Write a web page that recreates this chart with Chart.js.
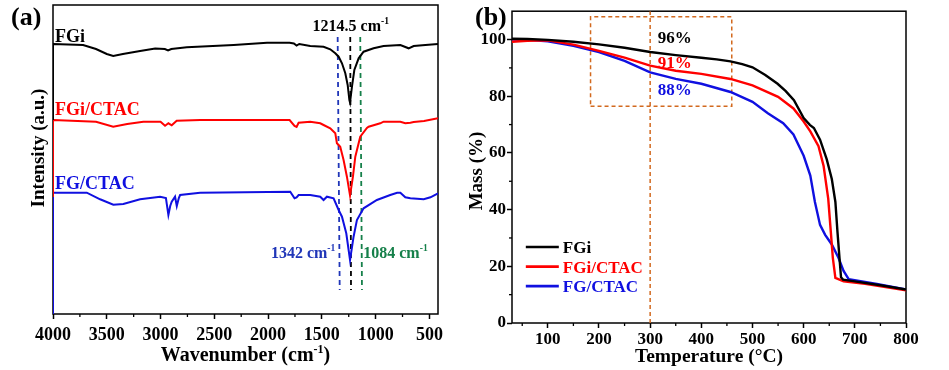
<!DOCTYPE html>
<html>
<head>
<meta charset="utf-8">
<script src="https://cdn.jsdelivr.net/npm/chart.js@4.4.1/dist/chart.umd.min.js"></script>
<style>
  html, body { margin:0; padding:0; background:#fff; }
  body { width:949px; height:370px; position:relative; overflow:hidden; }
  canvas { position:absolute; top:0; }
  #cA { left:0; }
  #cB { left:455px; }
</style>
</head>
<body>
<canvas id="cA" width="474" height="370"></canvas>
<canvas id="cB" width="494" height="370"></canvas>
<script>
// ---------------- Panel (a): FTIR spectra (wavenumber, intensity a.u.) ----------------
const ftirFGi = [[4000,194],[4000,270],[3720,269],[3600,265],[3500,260],[3440,258],[3350,260],[3190,263],[3050,265.5],[2960,265],[2930,263.5],[2900,265],[2880,265.3],[2756,266.7],[2320,269],[2010,271.3],[1800,271.3],[1760,270.5],[1735,268.5],[1710,270],[1608,268],[1484,267.3],[1422,264.7],[1375,260.7],[1344,257.3],[1313,250.7],[1282,240.7],[1260,229],[1244,214],[1238,211.5],[1220,227.3],[1198,244],[1158,255.7],[1112,262.3],[1019,265.7],[926,268],[770,269],[693,265.7],[646,268],[537,269],[420,270]];
const ftirFGiCTAC = [[4000,117],[4000,194],[3600,192.3],[3440,187.3],[3310,190],[3160,192.3],[3000,192.3],[2958,188.3],[2927,190.7],[2896,188.7],[2850,193.3],[2630,194],[1800,194],[1754,188],[1735,187],[1716,191.3],[1608,192.3],[1515,190.7],[1484,189],[1422,185.7],[1375,180.7],[1360,170.7],[1344,169],[1329,167.3],[1298,154],[1267,137.3],[1238,118.5],[1211,137.3],[1189,157.3],[1143,177.3],[1081,186],[1065,187.3],[957,190.7],[926,192.3],[770,192.3],[724,190.7],[677,191.3],[646,192],[550,193],[420,195.7]];
const ftirFGCTAC = [[4000,0],[4000,121.3],[3686,121.3],[3562,114.7],[3439,109.3],[3346,110],[3190,114.7],[3004,117.3],[2950,116],[2927,99],[2910,108],[2896,112.3],[2865,117.3],[2849,108],[2830,116],[2818,119],[2632,121.3],[1794,122.3],[1754,115.7],[1735,116.5],[1716,119],[1608,119],[1515,117.3],[1484,114],[1453,117.3],[1391,115.7],[1360,108],[1344,104],[1313,97.3],[1273,80.7],[1238,54],[1205,77.3],[1174,94],[1112,105.7],[988,114],[864,119],[800,121.3],[770,121.3],[724,116.7],[677,115.7],[553,114.7],[490,116.7],[420,120.7]];
// dashed marker lines (top point, bottom point)
const markBlue  = [[1353,277],[1334,24]];
const markBlack = [[1236,277],[1229,24]];
const markGreen = [[1143,277],[1127,24]];
const ftirTickLabels = [4000,3500,3000,2500,2000,1500,1000,500];
const ftirMinorTicks = [3750,3250,2750,2250,1750,1250,750];

// ---------------- Panel (b): TGA curves (temperature °C, mass %) ----------------
const tgaFGi = [[30,100.3],[60,100.2],[100,99.9],[150,99.2],[200,98.3],[250,97.1],[300,95.6],[350,94.5],[400,93.6],[430,93.0],[457,92.3],[480,91.3],[500,90.2],[525,87.5],[549,84.4],[565,81.8],[581,78.6],[600,72.3],[612,69.9],[620,68.8],[632,64.7],[645,57.8],[655,50.8],[662,42.7],[666,32.3],[670,23],[673,16.1],[677,15.3],[700,14.7],[750,13.3],[800,11.8]];
const tgaFGiCTAC = [[30,99.2],[60,99.6],[100,99.7],[150,98.2],[200,96],[250,93.6],[300,90.8],[350,89],[400,87.9],[457,86.1],[500,83.8],[550,79.8],[580,75.7],[600,71.1],[613,67.6],[629,62.4],[639,55.4],[648,43.9],[653,32.3],[657,23],[662,15.9],[678,14.7],[720,13.8],[760,12.7],[800,11.5]];
const tgaFGCTAC = [[30,100],[60,99.9],[100,99.4],[150,97.8],[200,95.6],[250,92.5],[300,88.4],[350,86.1],[400,84.4],[457,81.5],[500,78],[530,74],[560,70.5],[580,66.5],[600,59],[613,52],[622,42.7],[632,34.6],[642,31.1],[655,27.7],[668,23],[678,18.4],[688,15.5],[743,13.8],[800,11.8]];
const guideLine300 = [[300,0],[300,110]];
const highlightBox = [[183.5,76.5],[459.5,76.5],[459.5,108],[183.5,108],[183.5,76.5]];
const tgaXTickLabels = [100,200,300,400,500,600,700,800];
const tgaXMinorTicks = [50,150,250,350,450,550,650,750];
const tgaYTickLabels = [0,20,40,60,80,100];
const tgaYMinorTicks = [10,30,50,70,90];
const tgaPercentLabels = ['96%','91%','88%'];
const tgaPercentPos = [[348,101],[348,92.2],[348,82.4]];
const seriesNames = ['FGi','FGi/CTAC','FG/CTAC'];

// ---------------- styling ----------------
const FAMILY = '"Liberation Serif", "Times New Roman", serif';
const BLACK = '#000000', RED = '#FF0000', BLUE = '#1010E0';
const GREEN = '#16804A', DBLUE = '#2036B8', ORANGE = '#D2691E';
const xy = arr => arr.map(([x,y]) => ({x, y}));
const fontStr = (s) => `bold ${s}px ${FAMILY}`;

function drawRich(ctx, x, y, parts, size, color, align) {
  let w = 0;
  parts.forEach(([t, sup]) => { ctx.font = fontStr(sup ? size*0.6 : size); w += ctx.measureText(t).width; });
  let cx = align === 'center' ? x - w/2 : align === 'right' ? x - w : x;
  ctx.fillStyle = color; ctx.textBaseline = 'alphabetic'; ctx.textAlign = 'left';
  parts.forEach(([t, sup]) => {
    ctx.font = fontStr(sup ? size*0.6 : size);
    ctx.fillText(t, cx, sup ? y - size*0.4 : y);
    cx += ctx.measureText(t).width;
  });
}
function drawRotated(ctx, cx, cy, text, size, color) {
  ctx.save();
  ctx.translate(cx, cy); ctx.rotate(-Math.PI/2);
  ctx.font = fontStr(size); ctx.fillStyle = color;
  ctx.textAlign = 'center'; ctx.textBaseline = 'middle';
  ctx.fillText(text, 0, 0);
  ctx.restore();
}

const framePlugin = {
  id: 'frame',
  beforeDatasetsDraw(chart) {
    const {ctx, chartArea: a} = chart;
    ctx.save(); ctx.strokeStyle = '#000'; ctx.lineWidth = 1.5;
    ctx.strokeRect(a.left, a.top, a.right - a.left, a.bottom - a.top);
    ctx.restore();
  }
};
function minorTickPlugin(xMinor, yMinor) {
  return {
    id: 'minorTicks',
    afterDraw(chart) {
      const {ctx, chartArea: a, scales} = chart;
      ctx.save(); ctx.strokeStyle = '#000'; ctx.lineWidth = 1.3;
      xMinor.forEach(v => { const p = scales.x.getPixelForValue(v); ctx.beginPath(); ctx.moveTo(p, a.bottom); ctx.lineTo(p, a.bottom + 3); ctx.stroke(); });
      if (scales.y.options.display) yMinor.forEach(v => { const p = scales.y.getPixelForValue(v); ctx.beginPath(); ctx.moveTo(a.left, p); ctx.lineTo(a.left - 3, p); ctx.stroke(); });
      ctx.restore();
    }
  };
}
const tickFont = (s) => ({ family: FAMILY, size: s, weight: 'bold' });
const plainLabel = v => String(v);
const lineDS = (label, data, color, width, dash) => ({
  label, data: xy(data), borderColor: color, borderWidth: width, borderDash: dash || [],
  pointRadius: 0, tension: 0, fill: false, spanGaps: true
});

// ---------------- Chart (a) ----------------
const textA = {
  id: 'textA',
  afterDraw(chart) {
    const {ctx, scales: {x, y}} = chart;
    const X = v => x.getPixelForValue(v), Y = v => y.getPixelForValue(v);
    ctx.save();
    ctx.font = fontStr(26); ctx.fillStyle = '#000'; ctx.textAlign = 'left'; ctx.textBaseline = 'middle';
    ctx.fillText('(a)', 11, 18);
    drawRich(ctx, X(3981), Y(278) + 6, [[seriesNames[0]]], 18, BLACK, 'left');
    drawRich(ctx, X(3981), Y(205) + 6, [[seriesNames[1]]], 18, RED, 'left');
    drawRich(ctx, X(3981), Y(131.5) + 6, [[seriesNames[2]]], 18, BLUE, 'left');
    drawRich(ctx, X(1231), Y(289) + 5.5, [['1214.5 cm'], ['-1', true]], 16, BLACK, 'center');
    drawRich(ctx, X(1375), Y(62) + 5.5, [['1342 cm'], ['-1', true]], 16, DBLUE, 'right');
    drawRich(ctx, X(1115), Y(62) + 5.5, [['1084 cm'], ['-1', true]], 16, GREEN, 'left');
    drawRich(ctx, (chart.chartArea.left + chart.chartArea.right)/2, 361, [['Wavenumber (cm'], ['-1', true], [')']], 20, BLACK, 'center');
    drawRotated(ctx, 39, 148, 'Intensity (a.u.)', 19, BLACK);
    ctx.restore();
  }
};
new Chart(document.getElementById('cA'), {
  type: 'line',
  data: { datasets: [
    lineDS(seriesNames[0], ftirFGi, BLACK, 2),
    lineDS(seriesNames[1], ftirFGiCTAC, RED, 2),
    lineDS(seriesNames[2], ftirFGCTAC, BLUE, 2),
    lineDS('1342', markBlue, DBLUE, 1.8, [5,4]),
    lineDS('1214.5', markBlack, BLACK, 1.8, [5,4]),
    lineDS('1084', markGreen, GREEN, 1.8, [5,4])
  ]},
  options: {
    responsive: false, animation: false, maintainAspectRatio: false,
    layout: { padding: { left: 53, right: 36, top: 5, bottom: 0 } },
    plugins: { legend: { display: false }, tooltip: { enabled: false } },
    scales: {
      x: {
        type: 'linear', reverse: true, min: 420, max: 4000,
        afterBuildTicks: s => { s.ticks = ftirTickLabels.map(v => ({ value: v })); },
        afterFit: s => { s.height = 56; },
        ticks: { font: tickFont(18), color: '#000', padding: 6, maxRotation: 0, autoSkip: false, callback: plainLabel },
        grid: { display: true, drawOnChartArea: false, drawTicks: true, tickLength: 5, tickColor: '#000', tickWidth: 1.5 },
        border: { display: false }
      },
      y: { type: 'linear', display: false, min: 0, max: 309 }
    }
  },
  plugins: [framePlugin, minorTickPlugin(ftirMinorTicks, []), textA]
});

// ---------------- Chart (b) ----------------
const textB = {
  id: 'textB',
  afterDraw(chart) {
    const {ctx, scales: {x, y}, chartArea: a} = chart;
    const X = v => x.getPixelForValue(v), Y = v => y.getPixelForValue(v);
    ctx.save();
    ctx.font = fontStr(26); ctx.fillStyle = '#000'; ctx.textAlign = 'left'; ctx.textBaseline = 'middle';
    ctx.fillText('(b)', 20, 18);
    const cols = [BLACK, RED, BLUE];
    tgaPercentLabels.forEach((t, i) => drawRich(ctx, X(tgaPercentPos[i][0]), Y(tgaPercentPos[i][1]) + 6, [[t]], 17, cols[i], 'center'));
    // legend
    const legendY = [26.8, 19.9, 13];
    seriesNames.forEach((n, i) => {
      const yy = Y(legendY[i]);
      ctx.strokeStyle = cols[i]; ctx.lineWidth = 2.6;
      ctx.beginPath(); ctx.moveTo(X(57), yy); ctx.lineTo(X(121.5), yy); ctx.stroke();
      drawRich(ctx, X(129.4), yy + 6, [[n]], 17, cols[i], 'left');
    });
    drawRich(ctx, (a.left + a.right)/2, 362, [['Temperature (°C)']], 19.5, BLACK, 'center');
    drawRotated(ctx, 22, 171, 'Mass (%)', 19, BLACK);
    ctx.restore();
  }
};
new Chart(document.getElementById('cB'), {
  type: 'line',
  data: { datasets: [
    lineDS(seriesNames[0], tgaFGi, BLACK, 2.4),
    lineDS(seriesNames[1], tgaFGiCTAC, RED, 2.4),
    lineDS(seriesNames[2], tgaFGCTAC, BLUE, 2.4),
    lineDS('300 °C', guideLine300, ORANGE, 1.5, [4,3]),
    lineDS('region', highlightBox, ORANGE, 1.5, [4,3])
  ]},
  options: {
    responsive: false, animation: false, maintainAspectRatio: false,
    layout: { padding: { left: 0, right: 43, top: 6, bottom: 0 } },
    plugins: { legend: { display: false }, tooltip: { enabled: false } },
    scales: {
      x: {
        type: 'linear', min: 30, max: 800,
        afterBuildTicks: s => { s.ticks = tgaXTickLabels.map(v => ({ value: v })); },
        afterFit: s => { s.height = 47; },
        ticks: { font: tickFont(17), color: '#000', padding: 1, maxRotation: 0, autoSkip: false, callback: plainLabel },
        grid: { display: true, drawOnChartArea: false, drawTicks: true, tickLength: 5, tickColor: '#000', tickWidth: 1.5 },
        border: { display: false }
      },
      y: {
        type: 'linear', min: 0, max: 110,
        afterBuildTicks: s => { s.ticks = tgaYTickLabels.map(v => ({ value: v })); },
        afterFit: s => { s.width = 57; },
        ticks: { font: tickFont(17), color: '#000', padding: 1, autoSkip: false, callback: plainLabel },
        grid: { display: true, drawOnChartArea: false, drawTicks: true, tickLength: 5, tickColor: '#000', tickWidth: 1.5 },
        border: { display: false }
      }
    }
  },
  plugins: [framePlugin, minorTickPlugin(tgaXMinorTicks, tgaYMinorTicks), textB]
});
</script>
</body>
</html>
